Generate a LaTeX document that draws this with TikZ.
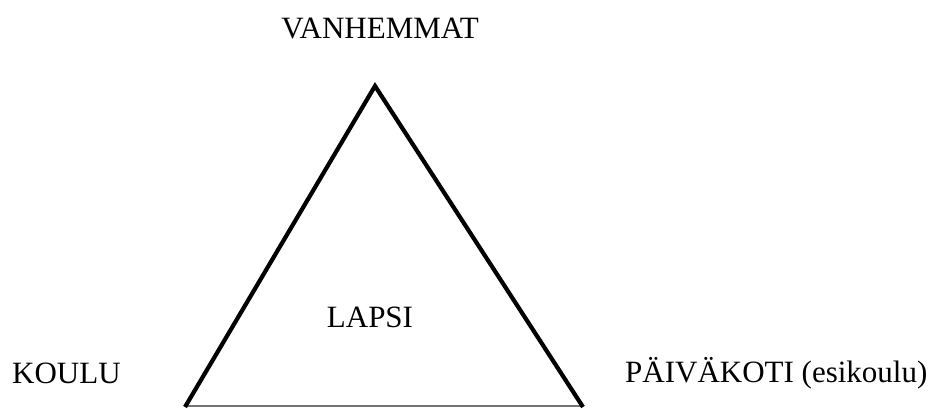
\documentclass[tikz,border=0pt]{standalone}
\usepackage{fontspec}
\setmainfont{Liberation Serif}
\usetikzlibrary{positioning}

\begin{document}
\begin{tikzpicture}[
  x=1pt, y=1pt,
  font=\fontsize{31}{36}\selectfont,
  lbl/.style={inner sep=0pt, anchor=base},
  side/.style={line width=4.2pt, line join=miter, black},
  basis/.style={line width=1.3pt, black!55}
]
  \useasboundingbox (0,0) rectangle (934,408);

  % kolmion kulmat
  \coordinate (top) at (375,322);
  \coordinate (bl)  at (185,1);
  \coordinate (br)  at (583,1);

  % kolmio
  \draw[basis] (bl) ++(0,1) -- ([yshift=1pt]br);
  \draw[side] (bl) -- (top) -- (br);

  % tekstit
  \node[lbl] (vanh) at (380,369) {VANHEMMAT};
  \node[lbl] (lapsi) at (370,81) {LAPSI};
  \node[lbl, anchor=base west] (koulu) at (12,25) {KOULU};
  \node[lbl, anchor=base west] (pk) at (625,26) {PÄIVÄKOTI (esikoulu)};
\end{tikzpicture}
\end{document}
